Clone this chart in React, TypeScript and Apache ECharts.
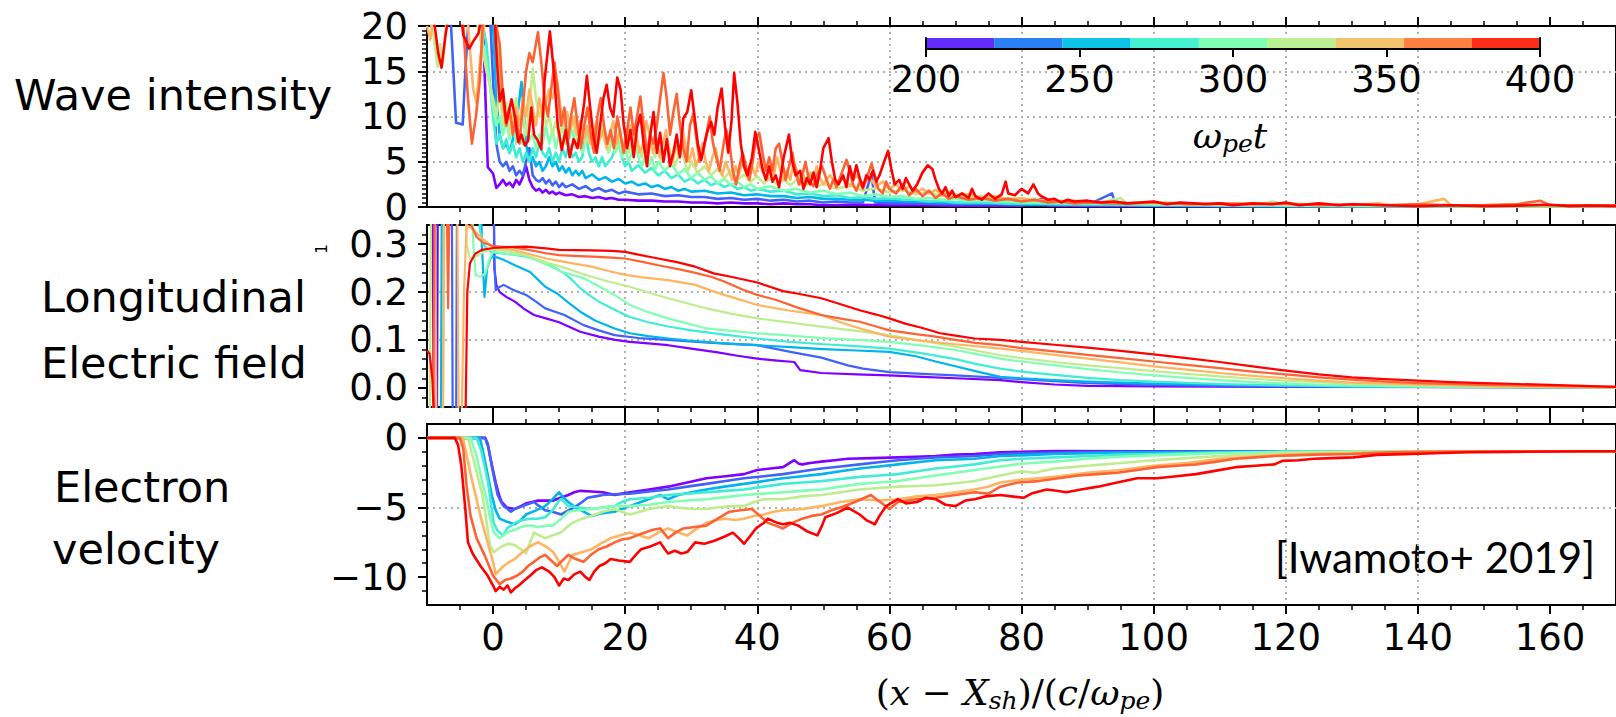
import React, { useEffect, useRef } from 'react';
import * as echarts from 'echarts';

// ---------------- data ----------------
const TIMES = [200, 225, 250, 275, 300, 325, 350, 375, 400];
const X_TICKS = [0, 20, 40, 60, 80, 100, 120, 140, 160];
const WAVE_TICKS = [0, 5, 10, 15, 20];
const EF_TICKS = [0, 0.1, 0.2, 0.3];
const VEL_TICKS = [-10, -5, 0];
const CBAR_TICKS = [200, 250, 300, 350, 400];
const CBAR_EDGES = [200, 222.22, 244.44, 266.67, 288.89, 311.11, 333.33, 355.56, 377.78, 400];

// Wave intensity
const WAVE_200 = [[-10,22],[-1.6,22],[-0.8,4.4],[0,3.7],[0.5,2.1],[1,2.5],[1.5,3],[2,2.4],[2.5,2.7],[3,2.2],[3.5,3],[4,2.5],[4.5,3.3],[5,4.5],[5.5,3],[6,2.2],[6.5,1.8],[7,2],[7.5,1.6],[8,1.9],[8.5,1.5],[9,1.7],[9.5,1.4],[10,1.6],[11,1.3],[12,1.4],[13,1.1],[14,1.2],[15,1],[16,1.1],[17,0.9],[18,1],[19,0.8],[20,0.8],[22,0.7],[24,0.7],[26,0.6],[28,0.6],[30,0.5],[32,0.5],[34,0.4],[36,0.5],[38,0.4],[40,0.4],[42,0.3],[44,0.4],[46,0.3],[48,0.3],[50,0.2],[55,0.25],[60,0.2],[65,0.2],[70,0.15],[75,0.15],[80,0.15],[83,0.9],[84,0.15],[90,0.1],[100,0.1],[120,0.1],[170,0.1]];
const WAVE_225 = [[-10,22],[-6.5,22],[-6,15],[-5.6,9.3],[-5,9.2],[-4.6,9.1],[-4.2,15],[-3.6,22],[-0.5,22],[0,14],[0.5,7],[1,5],[1.5,4.5],[2,5],[2.5,4],[3,4.5],[3.5,3.5],[4,4],[4.5,3.5],[5,5],[5.5,6.5],[6,3.5],[6.5,3],[7,2.8],[7.5,3.2],[8,2.6],[8.5,3],[9,2.4],[9.5,2.8],[10,2.2],[10.5,2.6],[11,2.2],[12,2.5],[13,2],[14,2.3],[15,1.8],[16,2.1],[17,1.7],[18,1.9],[19,1.5],[20,1.7],[22,1.4],[24,1.5],[26,1.2],[28,1.3],[30,1.1],[32,1.1],[34,0.9],[36,1],[38,0.8],[40,0.9],[42,0.7],[44,0.8],[46,0.6],[48,0.7],[50,0.5],[52,0.6],[54,0.5],[56,0.5],[57.3,3.7],[57.8,0.5],[60,0.4],[64,0.4],[68,0.3],[72,0.3],[76,0.3],[80,0.2],[85,0.2],[90,0.2],[93.7,1.5],[94.3,0.2],[100,0.15],[110,0.1],[120,0.1],[140,0.1],[170,0.1]];
const WAVE_250 = [[-10,22],[-1,22],[0,20],[0.5,12],[1,8],[1.5,6.5],[2,7],[2.5,6],[3,7.5],[3.5,9],[4,12],[4.3,13.8],[4.7,10],[5,7],[5.5,5],[6,5.5],[6.5,4.5],[7,5],[7.5,4],[8,4.5],[8.5,5.5],[9,4.5],[9.5,5],[10,4],[10.5,4.5],[11,3.8],[11.5,4.3],[12,3.5],[12.5,4],[13,3.5],[13.5,4],[14,3.2],[15,3.6],[16,3],[17,3.3],[18,2.8],[19,3.1],[20,2.6],[21,2.8],[22,2.4],[23,2.6],[24,2.2],[25,2.4],[26,2],[27,2.2],[28,1.8],[29,2],[30,1.7],[32,1.8],[34,1.5],[36,1.6],[38,1.3],[40,1.4],[42,1.2],[44,1.2],[46,1],[48,1.1],[50,0.9],[52,0.9],[54,0.8],[56,0.8],[58,0.7],[60,0.7],[64,0.6],[68,0.5],[72,0.4],[76,0.4],[80,0.3],[85,0.3],[90,0.2],[100,0.2],[110,0.15],[120,0.1],[140,0.1],[170,0.1]];
const WAVE_275 = [[-10,22],[-2,22],[-1,18],[0,10],[0.5,7],[1,8],[1.5,6.5],[2,7.5],[2.5,6],[3,7],[3.5,5.5],[4,6.5],[4.5,5],[5,6],[5.5,5],[6,6.5],[6.5,5.5],[7,7],[7.5,6],[8,5.5],[8.5,6.5],[9,5],[9.5,6],[10,5],[10.5,6.5],[11,5.5],[11.5,7],[12,5.5],[12.5,6],[13,5],[13.5,5.5],[14,8.2],[14.5,6],[15,5],[15.5,5.5],[16,4.5],[16.5,5.5],[17,4.5],[17.5,5],[18,5.5],[18.5,6.5],[19,7.3],[19.5,5.5],[20,4.5],[20.5,5],[21,4],[22,4.6],[23,3.8],[24,4.3],[25,3.5],[26,4],[27,3.2],[28,3.6],[29,2.8],[30,3.2],[31,2.6],[32,3],[33,2.4],[34,2.7],[35,2.2],[36,2.5],[37,2],[38,2.2],[39,1.8],[40,2],[42,1.7],[44,1.8],[46,1.4],[48,1.5],[50,1.2],[52,1.3],[54,1],[56,1.1],[58,0.9],[60,1],[62,0.8],[64,0.8],[66,0.6],[68,0.7],[70,0.5],[74,0.5],[78,0.4],[82,0.4],[86,0.3],[90,0.3],[100,0.2],[110,0.2],[120,0.15],[130,0.1],[170,0.1]];
const WAVE_300 = [[-10,22],[-3,22],[-2,20],[-1,16],[0,11],[0.5,9],[1,10],[1.5,8],[2,9.5],[2.5,7.5],[3,9],[3.5,7],[4,8.5],[4.5,7],[5,9],[5.5,7.5],[6,8],[6.5,6.5],[7,8],[7.5,7],[8,9],[8.5,7],[9,8.5],[9.5,6.5],[10,8],[10.5,7],[11,9],[11.5,7.5],[12,8.5],[12.5,6.5],[13,7.5],[13.5,6],[14,7],[14.5,8.5],[15,7],[15.5,6],[16,8],[16.5,8.5],[17,7],[17.5,6],[18,7.5],[18.5,6],[19,7],[19.5,5.5],[20,6.5],[20.5,5],[21,6],[21.5,7],[22,5.5],[22.5,4.5],[23,5.5],[23.5,4.5],[24,5.5],[24.5,4],[25,5],[26,4],[27,4.8],[28,3.6],[29,4.2],[30,3.2],[31,3.8],[32,3],[33,3.4],[34,2.6],[35,3.1],[36,2.4],[37,2.8],[38,2.2],[39,2.5],[40,2],[42,2.3],[44,1.8],[46,2],[48,1.6],[50,1.8],[52,1.4],[54,1.6],[56,1.2],[58,1.4],[60,1.1],[62,1.2],[64,0.9],[66,1],[68,0.8],[70,0.9],[72,0.7],[74,0.8],[76,0.6],[78,0.6],[80,0.5],[84,0.5],[88,0.4],[92,0.4],[94,0.9],[95,0.4],[100,0.3],[110,0.2],[120,0.2],[130,0.15],[140,0.1],[170,0.1]];
const WAVE_325 = [[-10,22],[-9,19],[-8.4,15.5],[-8,18],[-7.6,15.8],[-7,21],[-6,22],[-3,22],[-2,19],[-1,15],[0,12],[0.5,10],[1,13],[1.5,9],[2,11.5],[2.5,8],[3,10],[3.5,12],[4,9],[4.5,10.5],[5,8],[5.5,11],[6,15.3],[6.5,12],[7,10],[7.5,11],[8,9],[8.5,10],[9,8],[9.5,9.5],[10,7.5],[10.5,9],[11,7],[11.5,8.5],[12,10],[12.5,8],[13,7],[13.5,8.5],[14,7],[14.5,8],[15,6.5],[15.5,8],[16,7],[16.5,9],[17,7.5],[17.5,6],[18,7.5],[18.5,6.5],[19,8],[19.5,6.5],[20,7.5],[20.5,6],[21,7],[21.5,8.2],[22,6.5],[22.5,5.5],[23,7],[23.5,6],[24,7.5],[24.5,5.5],[25,6.5],[25.5,5],[26,6],[26.5,7],[27,5.5],[27.5,4.5],[28,5.5],[28.5,6.5],[29,5],[29.5,4],[30,5],[31,3.8],[32,4.5],[33,3.5],[34,4.2],[35,3.2],[36,4],[37,3],[38,3.6],[39,2.8],[40,3.4],[41,2.6],[42,3.2],[43,2.5],[44,3],[45,2.4],[46,3],[47,2.3],[48,2.8],[49,2.2],[50,2.6],[52,2],[54,2.4],[56,1.8],[58,2.1],[60,1.6],[62,1.9],[64,1.4],[66,1.6],[68,1.2],[70,1.4],[72,1],[74,1.2],[76,0.9],[78,1],[80,0.8],[82,0.9],[84,0.6],[86,0.7],[88,0.5],[90,0.6],[92,0.4],[95,1],[96,0.4],[100,0.4],[105,0.3],[110,0.3],[115,0.2],[118,0.6],[120,0.2],[130,0.2],[140,0.15],[150,0.1],[170,0.1]];
const WAVE_350 = [[-10,20],[-9.5,18.5],[-9,21],[-6,22],[-4,22],[-3,13],[-2.5,11.5],[-2,16],[-1,22],[0,22],[1,15],[1.5,11],[2,9],[2.5,10.5],[3,8.5],[3.5,11],[4,9],[4.5,12],[5,10],[5.5,13],[6,11],[6.5,9],[7,12],[7.5,10],[8,11.5],[8.5,13],[9,12],[9.7,14],[10.2,11],[10.7,9],[11.2,10.5],[11.7,8.5],[12.2,10],[12.7,8],[13.2,9.5],[13.7,7.5],[14.2,9],[14.7,7],[15.2,8],[15.7,9.5],[16.2,7.5],[16.7,8.5],[17.2,6.5],[17.7,8],[18.2,9.5],[18.7,7],[19.2,8.5],[19.7,6],[20.2,7.5],[20.7,9],[21.2,7],[21.7,8],[22.2,6],[22.7,7],[23.2,9.5],[23.7,8],[24.2,6],[24.7,7.5],[25.2,5.5],[25.7,7],[26.2,8.5],[26.7,6],[27.2,5],[27.7,7],[28.2,5.5],[28.7,8.5],[29.2,6.5],[29.7,5],[30.2,6.5],[30.7,4.5],[31.2,5.5],[31.7,7],[32.2,5],[32.7,4],[33.2,5.5],[33.7,6.5],[34.2,4.5],[34.7,3.5],[35.2,5],[35.7,4],[36.2,3],[36.7,4.5],[37.2,3.5],[37.7,5],[38.2,4],[38.7,3],[39.2,4.5],[39.7,3.5],[40.2,5],[40.7,4],[41.5,3],[42,4.5],[42.5,3.5],[43,5.5],[43.5,4],[44,3],[44.5,4],[45,3],[45.5,5],[46,4],[46.5,2.5],[47,3.5],[47.5,2.5],[48,3.8],[48.5,3],[49,4.5],[49.5,3.2],[50,2.5],[51,3.5],[52,2.5],[53,3.2],[54,2.3],[55,3.5],[56,2.5],[57,3.2],[58,2.3],[59,2.8],[60,2],[61,2.5],[62,1.8],[63,2.3],[64,1.6],[65,2],[66,1.5],[67,1.9],[68,1.3],[69,1.7],[70,1.2],[72,1.4],[74,1],[76,1.2],[78,0.8],[80,1],[82,0.7],[84,0.8],[86,0.6],[88,0.7],[90,0.5],[93,0.6],[96,0.4],[100,0.5],[105,0.4],[110,0.3],[115,0.4],[120,0.3],[125,0.3],[130,0.2],[134,0.4],[136,0.2],[140,0.3],[144,0.9],[145,0.2],[150,0.2],[155,0.3],[160,0.2],[165,0.2],[170,0.1]];
const WAVE_375 = [[-10,22],[-6,22],[-4.5,20],[-3.8,12],[-3.2,7],[-2.6,10],[-2,14],[-1.5,21],[0,22],[1,18],[1.5,12],[2,9],[2.5,11],[3,8],[3.5,10],[4,7],[4.5,11],[5,15],[5.5,17],[6,16],[6.8,19.3],[7.3,16],[7.8,12],[8.3,10],[8.8,13],[9.3,16],[9.8,13],[10.3,9],[10.8,11],[11.3,7],[11.8,10],[12.3,12],[12.8,9],[13.3,6.5],[13.8,9],[14.3,11],[14.8,8],[15.3,6],[15.8,10],[16.3,12],[16.8,9],[17.3,7],[17.8,8.5],[18.3,6.5],[18.8,10],[19.3,8],[19.8,6],[20.3,8.5],[20.8,11],[21.3,8],[21.8,10],[22.3,12.2],[22.8,9],[23.3,6],[23.8,8],[24.3,7],[24.8,9],[25.3,12],[25.8,14.8],[26.3,12],[26.8,8],[27.3,10.5],[27.8,12.5],[28.3,9],[28.8,6.5],[29.3,5],[29.8,9],[30.3,10.3],[30.8,7.5],[31.3,5],[31.8,6],[32.3,8],[32.8,10],[33.3,7],[33.8,5.5],[34.3,4],[34.8,6.5],[35.3,8.5],[35.8,7],[36.3,4],[36.8,2.5],[37.3,4.5],[37.8,6],[38.3,4.5],[38.8,3],[39.3,5],[39.8,7.5],[40.3,8.2],[40.8,6],[41.3,4],[41.8,5.5],[42.3,4],[42.8,6.5],[43.3,7],[43.8,5],[44.3,3],[44.8,4.5],[45.3,6],[45.8,4],[46.3,2.5],[46.8,3.5],[47.3,5],[47.8,3],[48.5,2.3],[49,3.5],[49.8,4.5],[50.5,3],[51,2],[51.5,3],[52,2.2],[52.8,3.8],[53.5,5.2],[54,4],[54.5,2.5],[55,1.8],[55.5,2.8],[56,2],[56.7,3.5],[57.3,4.8],[57.8,3.5],[58.3,2],[59,1.5],[59.5,2.8],[60,2],[61,1.5],[62,2.5],[63,1.3],[64,2],[65,1.2],[66,1.8],[67,1],[68,1.5],[69,0.9],[70,1.2],[72,0.8],[74,1],[76,0.7],[78,0.9],[80,0.6],[82,0.8],[84,0.5],[86,0.6],[88,0.4],[90,0.5],[95,0.4],[100,0.5],[105,0.3],[110,0.4],[115,0.3],[120,0.4],[125,0.2],[130,0.3],[135,0.2],[140,0.3],[145,0.2],[150,0.2],[155,0.3],[158.5,0.7],[160,0.2],[165,0.2],[170,0.15]];
const WAVE_400 = [[-10,22],[-9,21],[-8.3,17],[-7.8,15.4],[-7.2,19],[-6.5,22],[-5,22],[-4.5,19],[-3.6,17.5],[-3,18.3],[-2.2,19.2],[-1.5,22],[0,24],[0.6,16],[1,11.7],[1.5,13],[2,9.3],[2.8,11.9],[3.3,10],[3.8,7.2],[4.3,8],[4.8,6.8],[5.3,7.3],[5.8,11],[6.2,8],[6.8,7.3],[7.3,6.4],[7.8,14],[8.6,19.4],[9.2,15],[9.8,9],[10.4,6.3],[11,8.5],[11.6,5.5],[12.2,7.5],[12.8,6.5],[13.3,9],[13.8,11.5],[14.2,14.5],[14.7,11],[15.2,7.8],[15.7,6],[16.2,9],[16.7,12],[17.2,13.5],[17.7,11],[18.2,10],[18.8,14.3],[19.3,13],[19.8,9],[20.3,6.5],[20.8,8.5],[21.3,5.5],[21.8,8.8],[22.3,10.2],[22.8,7],[23.3,4.5],[23.8,8],[24.3,10.5],[24.8,6],[25.3,8.2],[25.8,5],[26.3,7.5],[26.8,4.5],[27.3,6],[27.8,8],[28.3,5.5],[28.8,9.8],[29.4,10.5],[30,12.9],[30.5,10],[31,7],[31.5,5.2],[32,7],[32.5,8.5],[33,9.4],[33.5,8],[34,11],[34.6,13.1],[35.1,9],[35.6,6],[36.1,9.5],[36.5,14.8],[37,11.5],[37.5,7],[38,4.5],[38.5,3.5],[39.2,5.5],[39.7,8.3],[40.2,6.5],[40.8,4.2],[41.3,3],[41.8,4.5],[42.3,2.8],[42.8,3.5],[43.3,2.2],[44,5.5],[44.8,8],[45.3,5],[45.8,3.5],[46.5,4],[47,2],[47.5,3.2],[48,2.5],[48.5,3.8],[49,2.2],[49.5,4],[50,6.5],[50.8,7.6],[51.3,5],[51.8,3],[52.3,2.5],[53,3.5],[53.5,2.2],[54,4.5],[54.5,3],[55,4.6],[55.5,3.2],[56,2.2],[56.5,3.5],[57,3],[57.5,4],[58,2.8],[58.5,3.5],[59.2,5],[59.8,6.2],[60.3,4.2],[60.8,2.5],[61.5,3],[62,2],[62.5,3.2],[63,2.5],[63.5,1.8],[64.2,2.5],[65,3.8],[65.8,4.6],[66.5,4.2],[67,3],[67.5,2],[68,1.5],[68.5,2.2],[69,1.2],[69.5,1.8],[70,1.1],[71,1.5],[72,1],[72.5,2],[73,1.2],[74,0.8],[75,1.5],[76,0.9],[77,1.4],[77.6,2.8],[78,1.5],[79,1.3],[80,2],[81,1.5],[81.8,2.5],[82.5,1.5],[83,1.2],[84,0.8],[85,0.9],[86,0.5],[87,0.8],[88,0.6],[90,0.7],[92,0.5],[94,0.6],[96,0.4],[98,0.5],[100,0.6],[102,0.3],[104,0.5],[106,0.4],[108,0.3],[110,0.4],[112,0.2],[115,0.4],[118,0.3],[120,0.5],[122,0.2],[125,0.4],[128,0.2],[130,0.3],[135,0.2],[140,0.1],[145,0.2],[150,0.1],[155,0.15],[160,0.25],[163,0.1],[166,0.15],[170,0.1]];

// Longitudinal electric field
const EF_200 = [[-10,0.6],[-9.2,0.6],[-9,-0.1],[-8.5,-0.1],[-8.3,0.6],[0,0.6],[0.2,0.25],[0.5,0.215],[1,0.2],[2,0.19],[3.3,0.18],[4.7,0.165],[6.2,0.152],[8,0.145],[10,0.137],[13.2,0.117],[16,0.107],[18.5,0.1],[20.7,0.096],[23.5,0.093],[26.5,0.089],[30,0.082],[34,0.074],[37,0.067],[40,0.061],[43,0.057],[45.6,0.054],[46.5,0.037],[49.7,0.031],[55,0.028],[60,0.026],[65,0.023],[70,0.02],[76.8,0.016],[80,0.012],[85,0.007],[90,0.004],[100,0.003],[120,0.002],[170,0.001]];
const EF_225 = [[-10,0.6],[-6.3,0.6],[-6.1,-0.1],[-5.6,-0.1],[-5.4,0.6],[-0.1,0.6],[0.2,0.26],[0.4,0.204],[0.9,0.21],[1.6,0.215],[3,0.205],[5,0.194],[6.5,0.18],[7.9,0.166],[10.8,0.152],[13.7,0.131],[16,0.12],[18.4,0.11],[22,0.104],[26.5,0.1],[32,0.095],[36,0.092],[40,0.089],[45,0.075],[49.7,0.063],[53.7,0.047],[56,0.04],[60,0.033],[65,0.029],[70,0.026],[76.8,0.021],[80,0.018],[85,0.014],[90,0.01],[100,0.006],[110,0.004],[120,0.003],[140,0.002],[170,0.001]];
const EF_250 = [[-10,0.6],[-8.8,0.6],[-8.6,-0.1],[-7.9,-0.1],[-7.7,0.6],[-2,0.6],[-1.7,0.3],[-1.3,0.19],[-0.9,0.25],[-0.4,0.27],[0,0.275],[1.5,0.268],[3.3,0.256],[5.6,0.242],[6.8,0.226],[7.9,0.211],[9.7,0.197],[11.5,0.177],[13.2,0.159],[15.5,0.14],[18.4,0.124],[20.7,0.114],[23.5,0.108],[26.5,0.103],[30,0.098],[35,0.093],[40,0.089],[45,0.085],[50,0.081],[55,0.078],[60,0.075],[64,0.066],[67,0.055],[70,0.045],[73,0.035],[76.8,0.023],[80,0.02],[85,0.016],[90,0.013],[100,0.009],[110,0.006],[120,0.004],[140,0.002],[170,0.001]];
const EF_275 = [[-10,-0.1],[-7.6,-0.1],[-7.4,0.6],[-2.5,0.6],[-2,0.33],[-1.5,0.3],[-0.5,0.285],[0,0.283],[3,0.278],[5,0.274],[8,0.262],[10.8,0.239],[12,0.225],[13.2,0.208],[14.6,0.193],[16,0.18],[18.4,0.163],[20.7,0.148],[23.5,0.137],[26.5,0.128],[30,0.12],[35,0.111],[40,0.103],[45,0.096],[50,0.091],[55,0.087],[60,0.082],[65,0.072],[70,0.06],[73,0.05],[76.8,0.04],[80,0.034],[85,0.027],[90,0.021],[95,0.016],[100,0.013],[110,0.008],[120,0.005],[130,0.003],[145,0.002],[170,0.001]];
const EF_300 = [[-10,0.6],[-3.5,0.6],[-3,0.3],[-2.6,0.235],[-2,0.232],[-1.2,0.238],[-0.5,0.27],[0,0.285],[2,0.28],[5,0.276],[8,0.258],[10.3,0.243],[13.7,0.229],[16,0.212],[18.4,0.194],[20.7,0.173],[23.5,0.158],[26.5,0.145],[29.5,0.134],[32.3,0.124],[36,0.119],[40,0.114],[45,0.109],[50,0.104],[55,0.1],[60,0.096],[65,0.088],[70,0.079],[73,0.071],[76.8,0.061],[80,0.055],[85,0.047],[90,0.039],[95,0.032],[100,0.026],[105,0.021],[110,0.016],[115,0.012],[120,0.009],[130,0.005],[140,0.003],[155,0.002],[170,0.001]];
const EF_325 = [[-10,-0.1],[-9.6,-0.1],[-9.3,0.6],[-4.4,0.6],[-4,0.3],[-3.5,0.27],[-2.5,0.275],[-1.5,0.283],[0,0.29],[3,0.283],[5,0.277],[8,0.262],[10.3,0.253],[12.5,0.243],[14.9,0.232],[17.5,0.222],[20.7,0.211],[23.5,0.199],[26.5,0.187],[29.5,0.176],[32.3,0.166],[36,0.155],[40,0.145],[45,0.136],[49.7,0.128],[55,0.119],[60,0.11],[65,0.098],[70,0.086],[73,0.078],[76.8,0.068],[80,0.062],[85,0.054],[90,0.047],[95,0.041],[100,0.035],[105,0.029],[110,0.024],[115,0.019],[120,0.015],[130,0.009],[140,0.005],[150,0.003],[160,0.002],[170,0.001]];
const EF_350 = [[-10,0.6],[-8.9,0.6],[-8.6,-0.1],[-7.6,-0.1],[-7.3,0.6],[-5.5,0.6],[-5.2,-0.1],[-4.8,-0.1],[-4.4,0.2],[-4,0.34],[-3,0.33],[-1.5,0.31],[0,0.294],[3,0.288],[5,0.281],[8,0.27],[10,0.265],[12.5,0.259],[14.9,0.253],[17.5,0.244],[20,0.236],[23,0.23],[26.5,0.225],[30.6,0.215],[33,0.203],[36,0.19],[40,0.173],[45,0.161],[49.7,0.152],[53,0.135],[56,0.122],[60,0.107],[65,0.098],[70,0.091],[76.8,0.082],[80,0.077],[85,0.069],[90,0.061],[95,0.053],[100,0.045],[105,0.038],[110,0.031],[115,0.025],[120,0.02],[125,0.015],[130,0.011],[140,0.007],[150,0.004],[160,0.002],[170,0.001]];
const EF_375 = [[-10,-0.1],[-9.1,-0.1],[-8.7,0.6],[-7.2,0.6],[-6.8,0.166],[-6.4,0.6],[-4,0.6],[-3.3,0.34],[-2.5,0.315],[-1.5,0.303],[0,0.296],[3,0.293],[5,0.289],[8,0.281],[10,0.277],[13,0.275],[15,0.274],[18,0.272],[20,0.27],[23,0.262],[25,0.256],[28,0.248],[30,0.242],[33,0.232],[35,0.222],[38,0.204],[40,0.194],[43,0.183],[46,0.168],[49.7,0.152],[52,0.146],[55.5,0.138],[58,0.128],[60,0.12],[64,0.112],[67,0.107],[70,0.1],[73,0.094],[76.8,0.089],[80,0.083],[85,0.076],[90,0.069],[95,0.062],[100,0.055],[105,0.048],[110,0.041],[115,0.034],[120,0.028],[125,0.022],[130,0.017],[135,0.013],[140,0.01],[150,0.006],[160,0.004],[170,0.002]];
const EF_400 = [[-10,0.078],[-9.6,0.071],[-9.2,0.02],[-8.8,-0.1],[-4.2,-0.1],[-3.9,0.2],[-3.5,0.26],[-2.7,0.28],[-1.7,0.288],[0,0.292],[2,0.294],[5,0.295],[8,0.291],[10,0.288],[15,0.287],[18,0.286],[20,0.284],[22,0.278],[25,0.27],[28,0.262],[30.6,0.253],[33.4,0.239],[36,0.232],[40,0.22],[43.9,0.202],[46,0.197],[49.7,0.187],[52.5,0.175],[55.5,0.162],[58,0.153],[60,0.145],[62.4,0.134],[65,0.125],[67.7,0.114],[70,0.109],[72.9,0.103],[76.8,0.1],[80,0.096],[85,0.09],[90,0.084],[95,0.077],[100,0.07],[105,0.062],[110,0.054],[115,0.045],[120,0.036],[125,0.028],[130,0.022],[135,0.018],[140,0.015],[145,0.012],[150,0.01],[155,0.008],[160,0.006],[165,0.004],[170,0.002]];

// Electron velocity
const VEL_200 = [[-10,0],[-1.2,0],[-0.75,-0.6],[-0.2,-1.9],[0.4,-3.2],[0.9,-4.1],[1.3,-4.6],[2.1,-5],[3.3,-5.1],[4.2,-4.9],[5,-4.7],[5.9,-4.6],[6.8,-4.5],[8,-4.5],[9.1,-4.5],[10.2,-4.3],[11.4,-4.1],[12.3,-3.9],[13.2,-3.8],[14.9,-3.85],[16.6,-3.9],[17.5,-4],[18.4,-4.1],[19.5,-4],[20.7,-3.9],[23.6,-3.7],[26.5,-3.5],[29.4,-3.2],[32.3,-2.9],[35.2,-2.75],[38,-2.6],[40,-2.3],[42,-2.2],[43.9,-2.1],[45.6,-1.6],[46.3,-1.85],[46.8,-1.9],[48,-1.8],[49.7,-1.7],[51.7,-1.6],[53.7,-1.5],[57.5,-1.45],[61.3,-1.4],[64,-1.35],[67,-1.3],[70,-1.2],[72.9,-1.15],[76.8,-1.03],[80,-1],[85,-0.95],[100,-0.96],[170,-0.96]];
const VEL_225 = [[-10,0],[-1.2,0],[-0.8,-0.4],[-0.2,-2],[0.3,-3.2],[0.7,-4.1],[1.2,-4.6],[1.6,-4.9],[2.2,-5.1],[2.7,-5.3],[3.3,-5.1],[3.9,-5],[5,-4.8],[6.2,-4.6],[7,-4.9],[7.9,-5.2],[9,-5.3],[10.3,-5.5],[11.4,-5.2],[12.6,-4.9],[13.5,-4.6],[14.3,-4.3],[15.5,-4.2],[16.6,-4.1],[18.5,-4.05],[20.7,-4],[23.6,-3.85],[26.5,-3.7],[29.4,-3.5],[32.3,-3.3],[35.2,-3.1],[38,-2.9],[41,-2.75],[43.9,-2.6],[46.8,-2.4],[49.7,-2.2],[52.6,-2.05],[55.5,-1.9],[58.4,-1.75],[61.3,-1.6],[64.2,-1.5],[67,-1.4],[70,-1.35],[72.9,-1.3],[76.8,-1.15],[80,-1.1],[90,-1.02],[100,-1],[120,-0.98],[170,-0.96]];
const VEL_250 = [[-10,0],[-2,0],[-1.6,-0.8],[-1,-2.2],[-0.2,-4.1],[0.4,-5.2],[1,-5.8],[2,-6],[3.3,-6.2],[4.2,-5.9],[5,-5.5],[6.5,-5.2],[7.9,-4.9],[9,-4.4],[10,-3.9],[10.7,-4.3],[11.4,-4.6],[12.5,-5],[13.7,-5.3],[14.9,-5.6],[16.6,-5.4],[18.4,-5.3],[19.5,-5.1],[20.7,-4.9],[23,-4.5],[25.3,-4.1],[26.5,-4.4],[28,-4.1],[30,-3.9],[32.3,-3.7],[35,-3.5],[38,-3.3],[41,-3.1],[43.9,-2.9],[46.8,-2.75],[49.7,-2.6],[52.6,-2.4],[55.5,-2.2],[58.4,-2.05],[61.3,-1.9],[64.2,-1.75],[67,-1.6],[70,-1.55],[72.9,-1.5],[76.8,-1.3],[80,-1.25],[85,-1.15],[95,-1.05],[110,-1],[130,-0.97],[170,-0.96]];
const VEL_275 = [[-10,0],[-2.5,0],[-1.8,-0.9],[-1.2,-2.2],[-0.75,-3.2],[-0.3,-4.8],[0.1,-6.1],[0.6,-6.6],[1,-6.8],[1.6,-7],[2.1,-6.5],[2.7,-6.3],[3.3,-6.1],[4.5,-5.9],[5.6,-5.8],[6.8,-5.8],[7.9,-5.7],[9,-5.2],[10,-4.5],[10.3,-4.4],[11,-4.7],[11.4,-4.9],[13,-5],[14.9,-5.1],[16.6,-5],[18.4,-4.9],[19.5,-4.6],[20.7,-4.4],[23.6,-4.3],[26.5,-4.1],[29.4,-4],[32.3,-3.9],[35.2,-3.8],[38,-3.7],[41,-3.5],[43.9,-3.3],[46.8,-3.2],[49.7,-3.1],[52.6,-2.95],[55.5,-2.8],[58.4,-2.7],[61.3,-2.6],[64.2,-2.4],[67,-2.2],[70,-2.05],[72.9,-1.9],[76.8,-1.6],[80,-1.5],[85,-1.4],[90,-1.3],[95,-1.2],[100,-1.15],[110,-1.05],[120,-1],[135,-0.97],[170,-0.96]];
const VEL_300 = [[-10,0],[-3.4,0],[-2.5,-1.3],[-1.8,-2.8],[-1,-4.4],[-0.5,-5.6],[0.1,-6.8],[1,-7.2],[1.5,-7],[2.1,-6.8],[3.3,-6.6],[4.2,-6.4],[5,-6.3],[5.9,-6.3],[6.8,-6.4],[8,-6.3],[9.1,-6.3],[10.3,-5.8],[11.4,-5.3],[13,-5.2],[14.9,-5.1],[16.6,-5],[18.4,-4.9],[20.7,-4.9],[23.6,-4.8],[26.5,-4.6],[29.4,-4.5],[32.3,-4.4],[35.2,-4.25],[38,-4.1],[41,-4],[43.9,-3.9],[46.8,-3.8],[49.7,-3.7],[52.6,-3.5],[55.5,-3.3],[58.4,-3.2],[61.3,-3.1],[64.2,-2.9],[67,-2.7],[70,-2.5],[72.9,-2.3],[76.8,-2.05],[80,-1.85],[85,-1.7],[90,-1.5],[95,-1.35],[100,-1.25],[110,-1.1],[120,-1],[135,-0.97],[170,-0.96]];
const VEL_325 = [[-10,0],[-3.8,0],[-3.1,-1.3],[-2.4,-2.6],[-1.6,-4.1],[-1,-6],[-0.5,-7.7],[0.1,-8.2],[0.7,-8],[1.3,-7.8],[2.3,-7.6],[3.3,-7.7],[4.2,-8],[5,-8.3],[5.6,-7.5],[6.2,-6.8],[7,-7],[7.9,-7.2],[9,-7],[10.3,-6.8],[11.2,-6.4],[12,-6.1],[13.5,-5.8],[14.9,-5.6],[16.6,-5.3],[18.4,-5.1],[19.5,-5.3],[20.7,-5.5],[22.2,-5.3],[23.6,-5.1],[25,-5],[26.5,-4.9],[28,-5],[30,-5.1],[32.3,-5.1],[34,-5],[36,-4.9],[38,-4.9],[39.5,-4.6],[41,-4.4],[43.9,-4.4],[46.8,-4.2],[49.7,-4.1],[52.6,-3.9],[55.5,-3.7],[58.4,-3.6],[61.3,-3.5],[64.2,-3.45],[67,-3.4],[70,-3.25],[72.9,-3.1],[76.8,-2.7],[80,-2.4],[82,-2.5],[85,-2.2],[90,-2],[95,-1.8],[100,-1.6],[105,-1.45],[110,-1.3],[115,-1.2],[120,-1.1],[130,-1],[140,-0.98],[150,-0.97],[170,-0.96]];
const VEL_350 = [[-10,0],[-4.6,0],[-4.2,-0.8],[-3.4,-2.6],[-2.5,-4.4],[-1.8,-5.8],[-1,-7.2],[0,-8.9],[0.4,-9.8],[1,-9.5],[1.6,-9.2],[2.5,-8.9],[3.3,-8.7],[4.2,-8.3],[5,-8],[5.9,-7.7],[6.8,-7.5],[8,-7.8],[9.1,-8.2],[10,-8.9],[10.8,-9.6],[11.4,-9],[12,-8.4],[13.5,-8.2],[14.9,-8],[16.3,-7.6],[17.8,-7.2],[19.2,-7],[20.7,-6.8],[22.2,-7],[23.6,-7.2],[25,-6.8],[26.5,-6.5],[28,-6.8],[29.4,-7],[30.9,-6.5],[32.3,-6.1],[33.8,-5.9],[35.2,-5.8],[36.6,-5.9],[38,-5.8],[39.5,-5.6],[41,-5.5],[42.5,-5.3],[43.9,-5.2],[46.8,-5.1],[49.7,-4.9],[52.6,-4.6],[55.5,-4.4],[58.4,-4.5],[61.3,-4.4],[64.2,-4.2],[67,-4.1],[70,-3.9],[72.9,-3.7],[74.9,-3.5],[76.8,-3.2],[80,-3],[85,-2.8],[90,-2.5],[95,-2.3],[100,-2],[105,-1.8],[110,-1.5],[115,-1.35],[120,-1.2],[125,-1.15],[130,-1.1],[140,-1],[150,-0.98],[160,-0.97],[170,-0.96]];
const VEL_375 = [[-10,0],[-5,0],[-4.5,-0.8],[-4,-3.5],[-3.4,-5.6],[-2.5,-7.2],[-1.3,-8.4],[0,-9.9],[1,-10.5],[1.8,-10.2],[2.7,-10.1],[3.6,-9.9],[4.5,-9.6],[5.3,-9.2],[6.2,-8.9],[7,-8.6],[7.9,-8.4],[8.8,-8.8],[9.7,-9.2],[10.5,-8.8],[11.4,-8.4],[12.5,-8.7],[13.7,-8.9],[14.8,-8.4],[16,-8],[17.2,-7.8],[18.4,-7.5],[19.5,-7.3],[20.7,-7.2],[21.8,-7],[23,-6.8],[24.2,-6.6],[25.3,-6.5],[26.5,-7.2],[27.6,-6.8],[28.8,-6.5],[30.5,-6.4],[32.3,-6.3],[34,-5.8],[35.8,-5.3],[37.5,-5.2],[39.2,-5.1],[40.4,-5.6],[41.6,-6.1],[42.8,-6.3],[43.9,-6.5],[45.3,-6.1],[46.8,-5.8],[48.2,-5.6],[49.7,-5.5],[51.2,-5.2],[52.6,-5],[54.8,-4.6],[57.2,-4.1],[58.6,-4.6],[60,-5.1],[61.3,-4.6],[64,-4.4],[67,-4.3],[70,-4.1],[72.9,-3.9],[75,-4],[76.8,-3.5],[79.5,-3.2],[82.6,-3.1],[85.6,-2.9],[88.6,-2.7],[91.5,-2.6],[94.5,-2.5],[97.5,-2.3],[100.5,-2.1],[103.5,-2],[106.4,-1.9],[109.5,-1.7],[112.4,-1.5],[115.4,-1.4],[118.3,-1.3],[121.3,-1.25],[124.3,-1.2],[130,-1.15],[136,-1.03],[142,-1],[148,-0.98],[160,-0.97],[170,-0.96]];
const VEL_400 = [[-10,0],[-5.8,0],[-5.3,-0.5],[-4.8,-2],[-4.2,-5.1],[-3.8,-7.5],[-3.1,-8.3],[-1.9,-9.2],[-0.8,-9.9],[0,-10.6],[0.4,-11],[1,-10.7],[1.6,-10.9],[2.2,-10.6],[2.7,-11.1],[3.3,-10.8],[3.9,-10.6],[4.6,-10.3],[5.6,-9.9],[6.5,-9.5],[7.4,-9.3],[8.5,-9.6],[9.3,-10],[10,-10.6],[10.7,-10.1],[11.4,-10.2],[12.3,-9.8],[13.2,-9.6],[14,-10],[14.6,-10.2],[15.3,-9.6],[16.1,-9.2],[17,-9],[17.8,-8.7],[19,-8.8],[20.7,-8.9],[21.6,-8.4],[22.4,-8],[23.8,-7.8],[25.3,-7.5],[26,-8],[26.5,-8.3],[27.5,-8.1],[28.5,-8.3],[29.4,-8.2],[30.6,-7.5],[32,-7.6],[33.4,-7.4],[35,-7.1],[36.3,-6.8],[37.2,-7.2],[38,-7.6],[39,-7],[39.8,-6.5],[41,-6.1],[41.6,-5.8],[43,-6.1],[43.9,-6.2],[45,-6.1],[46.2,-6.3],[47.5,-6.7],[49.1,-7],[49.8,-6.3],[50.3,-5.7],[52,-5.4],[53.7,-5],[55.5,-5.5],[56.5,-5.9],[57.8,-6.2],[58.5,-5.6],[59.5,-4.9],[61.3,-4.4],[62.5,-4.7],[64.2,-4.6],[65.5,-4.3],[67,-4.4],[68.5,-4.8],[70,-4.9],[71.5,-4.5],[72.9,-4.4],[74.5,-4.2],[76.8,-4.1],[78.5,-4.2],[80.3,-4.3],[81.5,-4],[83.8,-3.7],[85.3,-3.8],[86.8,-3.9],[89,-3.7],[91.6,-3.5],[94.5,-3.2],[97.5,-2.9],[100.5,-2.9],[103.5,-2.75],[106.4,-2.6],[109.5,-2.35],[112.4,-2.1],[115.4,-2],[118.3,-1.9],[119.5,-1.65],[121.9,-1.6],[124.3,-1.5],[127,-1.45],[130.2,-1.4],[133.8,-1.22],[136.5,-1.18],[139.2,-1.15],[143.6,-1.08],[148,-1.03],[154,-1],[160,-0.97],[165,-0.96],[170,-0.96]];

const WAVE = [WAVE_200, WAVE_225, WAVE_250, WAVE_275, WAVE_300, WAVE_325, WAVE_350, WAVE_375, WAVE_400];
const EFIELD = [EF_200, EF_225, EF_250, EF_275, EF_300, EF_325, EF_350, EF_375, EF_400];
const VELOCITY = [VEL_200, VEL_225, VEL_250, VEL_275, VEL_300, VEL_325, VEL_350, VEL_375, VEL_400];

// ---------------- styles ----------------
const LINE_COLORS = ['#8000ff', '#4062fa', '#00b4ec', '#40ecd4', '#80ffb4', '#bfec8e', '#ffb462', '#ff6232', '#ff0000'];
const CBAR_COLORS = ['#632cfe', '#2b80f6', '#0ec3e7', '#47f0d1', '#80ffb4', '#b8f092', '#f1c36c', '#ff8042', '#ff2c16'];
const FONT = 'DejaVu Sans';
const GRID_LEFT = 427;
const GRID_WIDTH = 1190;

function xAxisFor(gridIndex: number, position: string, showLabel: boolean) {
  return {
    type: 'value', gridIndex, position, min: -10, max: 170, minInterval: 20, maxInterval: 20, splitNumber: 9,
    axisLine: { show: true, onZero: false, lineStyle: { color: '#000', width: 2 } },
    axisTick: { show: true, inside: false, length: 9, customValues: X_TICKS, lineStyle: { color: '#000', width: 2 } },
    minorTick: { show: true, splitNumber: 4, length: 5, lineStyle: { color: '#000', width: 1.5 } },
    axisLabel: {
      show: showLabel, margin: 14, fontSize: 37, fontFamily: FONT, color: '#000', customValues: X_TICKS,
      formatter: (v: number) => (X_TICKS.indexOf(v) >= 0 ? String(v) : ''),
    },
    splitLine: {
      show: position === 'bottom', showMinLine: false, showMaxLine: false,
      lineStyle: { color: '#b0b0b0', width: 2, type: [2, 4] },
    },
  };
}

function yAxisFor(gridIndex: number, min: number, max: number, step: number, ticks: number[], minorSplit: number, fmt: (v: number) => string) {
  return {
    type: 'value', gridIndex, position: 'left', min, max, minInterval: step, maxInterval: step, splitNumber: 4,
    axisLine: { show: true, onZero: false, lineStyle: { color: '#000', width: 2 } },
    axisTick: { show: true, inside: false, length: 9, customValues: ticks, lineStyle: { color: '#000', width: 2 } },
    minorTick: { show: true, splitNumber: minorSplit, length: 5, lineStyle: { color: '#000', width: 1.5 } },
    axisLabel: {
      show: true, margin: 19, fontSize: 37, fontFamily: FONT, color: '#000', customValues: ticks,
      formatter: (v: number) => (ticks.some((t) => Math.abs(t - v) < 1e-9) ? fmt(v) : ''),
    },
    splitLine: { show: true, showMinLine: false, showMaxLine: false, lineStyle: { color: '#b0b0b0', width: 2, type: [2, 4] } },
  };
}

function buildOption() {
  const grids = [
    { left: GRID_LEFT, top: 26, width: GRID_WIDTH, height: 181 },
    { left: GRID_LEFT, top: 225, width: GRID_WIDTH, height: 182 },
    { left: GRID_LEFT, top: 424, width: GRID_WIDTH, height: 181 },
    { left: 926, top: 38, width: 614, height: 11 },
  ].map((g, i) => ({ ...g, show: i < 3, borderColor: '#000', borderWidth: 2, backgroundColor: 'transparent' }));

  const xAxes: any[] = [];
  for (let p = 0; p < 3; p++) {
    xAxes.push(xAxisFor(p, 'bottom', p === 2));
    xAxes.push(xAxisFor(p, 'top', false));
  }
  // colorbar axes
  xAxes.push({
    type: 'value', gridIndex: 3, position: 'bottom', min: 200, max: 400, interval: 50, z: 10,
    axisLine: { show: true, lineStyle: { color: '#000', width: 2 } },
    axisTick: { show: true, inside: false, length: 8, customValues: CBAR_TICKS, lineStyle: { color: '#000', width: 2 } },
    axisLabel: { show: true, margin: 12, fontSize: 37, fontFamily: FONT, color: '#000', customValues: CBAR_TICKS },
    splitLine: { show: false },
  });
  xAxes.push({
    type: 'value', gridIndex: 3, position: 'top', min: 200, max: 400, interval: 50, z: 10,
    axisLine: { show: true, lineStyle: { color: '#000', width: 2 } },
    axisTick: { show: false }, axisLabel: { show: false }, splitLine: { show: false },
  });

  const intFmt = (v: number) => (v < 0 ? '\u2212' + Math.abs(v) : String(v));
  const yAxes: any[] = [
    yAxisFor(0, 0, 20, 5, WAVE_TICKS, 10, intFmt),
    yAxisFor(1, -0.04, 0.34, 0.1, EF_TICKS, 5, (v) => Math.abs(v).toFixed(1)),
    yAxisFor(2, -12, 1, 5, VEL_TICKS, 5, intFmt),
    { type: 'value', gridIndex: 3, position: 'left', min: 0, max: 1, z: 10, axisLine: { show: true, lineStyle: { color: '#000', width: 2 } }, axisTick: { show: false }, axisLabel: { show: false }, splitLine: { show: false } },
    { type: 'value', gridIndex: 3, position: 'right', min: 0, max: 1, z: 10, axisLine: { show: true, lineStyle: { color: '#000', width: 2 } }, axisTick: { show: false }, axisLabel: { show: false }, splitLine: { show: false } },
  ];

  const series: any[] = [];
  const panels = [WAVE, EFIELD, VELOCITY];
  const widths = [2.6, 2.2, 2.6];
  panels.forEach((lines, p) => {
    lines.forEach((data, i) => {
      series.push({
        type: 'line', name: `${['wave', 'efield', 'vel'][p]} t=${TIMES[i]}`,
        xAxisIndex: 2 * p, yAxisIndex: p, data, showSymbol: false, symbol: 'none', clip: true, silent: true,
        z: 2 + i, lineStyle: { color: LINE_COLORS[i], width: widths[p], join: 'round' }, itemStyle: { color: LINE_COLORS[i] },
      });
    });
  });
  series.push({
    type: 'custom', name: 'colorbar', xAxisIndex: 6, yAxisIndex: 3, silent: true, z: 2,
    data: CBAR_COLORS.map((_, i) => [CBAR_EDGES[i], CBAR_EDGES[i + 1], i]),
    encode: { x: [0, 1] },
    renderItem: (params: any, api: any) => {
      const p0 = api.coord([api.value(0), 1]);
      const p1 = api.coord([api.value(1), 0]);
      return {
        type: 'rect',
        shape: { x: p0[0], y: p0[1], width: p1[0] - p0[0], height: p1[1] - p0[1] },
        style: { fill: CBAR_COLORS[api.value(2)] },
      };
    },
  });

  const serif = 'DejaVu Serif';
  const mathRich = {
    r: { fontFamily: serif, fontSize: 36, color: '#000', lineHeight: 42, verticalAlign: 'middle' },
    i: { fontFamily: serif, fontStyle: 'italic', fontSize: 36, color: '#000', lineHeight: 42, verticalAlign: 'middle' },
    s: { fontFamily: serif, fontStyle: 'italic', fontSize: 25, color: '#000', lineHeight: 25, verticalAlign: 'bottom' },
  };
  const leftLabel = (text: string, x: number, y: number) => ({
    type: 'text', x, y, style: { text, fontFamily: FONT, fontSize: 43, fill: '#000', verticalAlign: 'middle' },
  });

  const graphic = [
    leftLabel('Wave intensity', 14, 95),
    leftLabel('Longitudinal', 41, 297),
    leftLabel('Electric field', 41, 363),
    leftLabel('Electron', 54, 487),
    leftLabel('velocity', 52, 549),
    {
      type: 'text', x: 322, y: 249, rotation: Math.PI / 2,
      style: { text: '1', fontFamily: FONT, fontSize: 15, fill: '#000', align: 'center', verticalAlign: 'middle' },
    },
    {
      type: 'text', x: 1595, y: 557,
      style: { text: '[Iwamoto+ 2019]', fontFamily: 'Lato', fontSize: 42, fill: '#000', align: 'right', verticalAlign: 'middle' },
    },
    {
      type: 'text', x: 1020, y: 692,
      style: {
        text: '{r|(}{i|x}{r| \u2212 }{i|X}{s|sh}{r|)/(}{i|c}{r|/}{i|\u03c9}{s|pe}{r|)}',
        rich: mathRich, align: 'center', verticalAlign: 'middle',
      },
    },
    {
      type: 'text', x: 1230, y: 135,
      style: {
        text: '{i|\u03c9}{s|pe}{i|t}',
        rich: mathRich, align: 'center', verticalAlign: 'middle',
      },
    },
  ];

  return {
    animation: false,
    backgroundColor: '#ffffff',
    grid: grids,
    xAxis: xAxes,
    yAxis: yAxes,
    series,
    graphic,
  };
}

export default function App() {
  const ref = useRef<HTMLDivElement>(null);
  useEffect(() => {
    if (!ref.current) return;
    const chart = echarts.init(ref.current, null, { renderer: 'svg' });
    chart.setOption(buildOption() as any);
    return () => chart.dispose();
  }, []);
  return <div ref={ref} style={{ position: 'absolute', left: 0, top: 0, width: 1616, height: 717, background: '#fff' }} />;
}
